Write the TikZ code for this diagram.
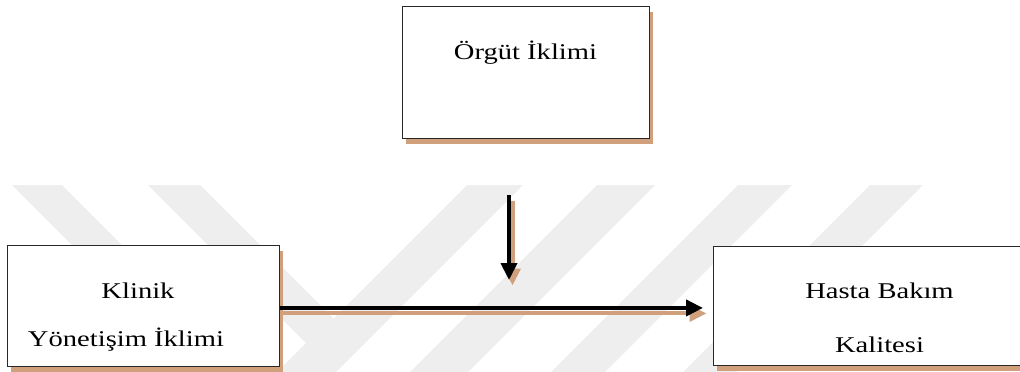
\documentclass[tikz,border=0pt]{standalone}
\usepackage{fontspec}
\setmainfont{Liberation Serif}
\usetikzlibrary{arrows.meta,shadows}
\definecolor{shadowtan}{RGB}{208,160,124}
\definecolor{wmgray}{RGB}{238,238,238}
\definecolor{boxline}{RGB}{40,40,40}
\newcommand{\wtxt}[1]{\scalebox{1.27}[1]{#1}}
\begin{document}
\begin{tikzpicture}[x=1pt,y=-1pt,
  boxnode/.style={draw=boxline, line width=0.9pt, fill=white, inner sep=0pt, anchor=north west,
    drop shadow={shadow xshift=3.5pt, shadow yshift=-5.5pt, fill=shadowtan, opacity=1}},
  lbl/.style={anchor=base, inner sep=0pt, font=\fontsize{22.5}{27}\selectfont},
  wm/.style={fill=wmgray, draw=none},
  arr/.style={line width=4pt, -{Triangle[length=17pt,width=16pt]}},
  arrshadow/.style={arr, draw=shadowtan, fill=shadowtan, transform canvas={xshift=3.5pt,yshift=-5.5pt}}
]
\path[use as bounding box, clip] (0,0) rectangle (1020,372);
% watermark
\fill[wm] (12,185) -- (62,185) -- (220,343) -- (120,443) -- (70,443) -- (170,343) -- cycle;
\fill[wm] (148,185) -- (200,185) -- (358,343) -- (258,443) -- (206,443) -- (306,343) -- cycle;
\fill[wm] (467,185) -- (523,185) -- (323,385) -- (267,385) -- cycle;
\fill[wm] (597,185) -- (655,185) -- (455,385) -- (397,385) -- cycle;
\fill[wm] (738,185) -- (792,185) -- (592,385) -- (538,385) -- cycle;
\fill[wm] (870,185) -- (923,185) -- (723,385) -- (670,385) -- cycle;
% boxes
\node[boxnode, minimum width=247pt, minimum height=132pt] (org) at (402,6) {};
\node[boxnode, minimum width=272pt, minimum height=121pt] (kyi) at (7,245) {};
\node[boxnode, minimum width=320pt, minimum height=119pt] (hbk) at (713,246) {};
% arrows
\coordinate (modS) at (509,195);
\coordinate (modE) at (509,280);
\coordinate (hS) at ([yshift=-2pt]kyi.east);
\coordinate (hE) at ([xshift=-10pt,yshift=-2pt]hbk.west);
\draw[arrshadow] (modS) -- (modE);
\draw[arrshadow] (hS) -- (hE);
\draw[arr] (modS) -- (modE);
\draw[arr] (hS) -- (hE);
% texts
\node[lbl] (orgT) at (525.5,59.5) {\wtxt{Örgüt İklimi}};
\node[lbl] (kyiT1) at (138,298) {\wtxt{Klinik}};
\node[lbl] (kyiT2) at (126,346) {\wtxt{Yönetişim İklimi}};
\node[lbl] (hbkT1) at (879.5,298) {\wtxt{Hasta Bakım}};
\node[lbl] (hbkT2) at (879.5,352) {\wtxt{Kalitesi}};
\end{tikzpicture}
\end{document}
